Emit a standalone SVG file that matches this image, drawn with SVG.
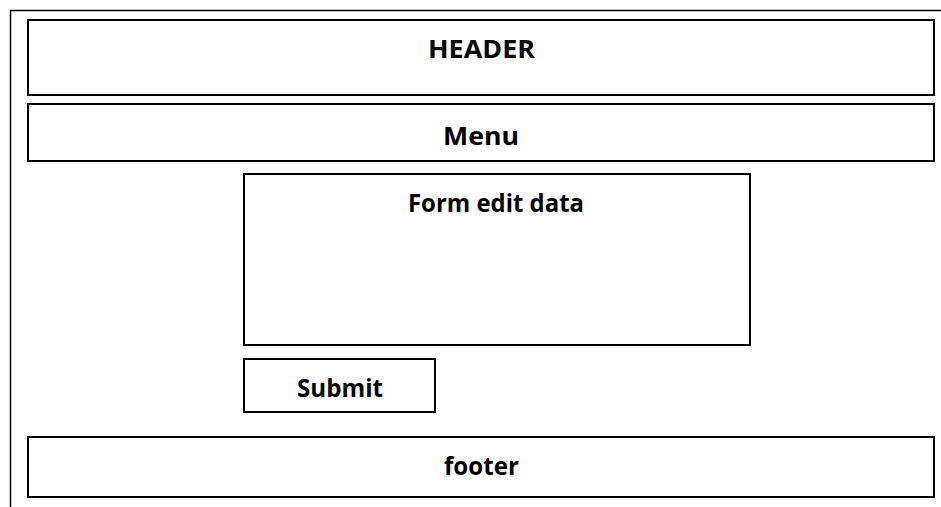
<svg xmlns="http://www.w3.org/2000/svg" width="941" height="507" viewBox="0 0 941 507">
  <style>
    .box { fill: #ffffff; stroke: #000000; stroke-width: 2; }
    .frame { fill: none; stroke: #000000; stroke-width: 1.5; }
    .label { font-family: "Open Sans", "Liberation Sans", Arial, sans-serif; font-weight: bold; font-size: 25px; fill: #000000; text-anchor: middle; }
  </style>
  <rect width="941" height="507" fill="#ffffff"/>
  <!-- page frame: top edge and left edge -->
  <path class="frame" d="M10.5,507 V10.5 H941"/>
  <g id="header">
    <rect class="box" x="28" y="20" width="906" height="75"/>
    <text class="label" x="481.5" y="58" textLength="107" lengthAdjust="spacingAndGlyphs">HEADER</text>
  </g>
  <g id="menu">
    <rect class="box" x="28" y="104" width="906" height="57"/>
    <text class="label" x="481" y="145" textLength="76" lengthAdjust="spacingAndGlyphs">Menu</text>
  </g>
  <g id="form">
    <rect class="box" x="244" y="174" width="506" height="171"/>
    <text class="label" x="496" y="212" textLength="176" lengthAdjust="spacingAndGlyphs">Form edit data</text>
  </g>
  <g id="submit">
    <rect class="box" x="244" y="359" width="191" height="53"/>
    <text class="label" x="340" y="397" textLength="86" lengthAdjust="spacingAndGlyphs">Submit</text>
  </g>
  <g id="footer">
    <rect class="box" x="28" y="437" width="906" height="60"/>
    <text class="label" x="481.5" y="475" textLength="75" lengthAdjust="spacingAndGlyphs">footer</text>
  </g>
  <g id="connectors"/>
</svg>
